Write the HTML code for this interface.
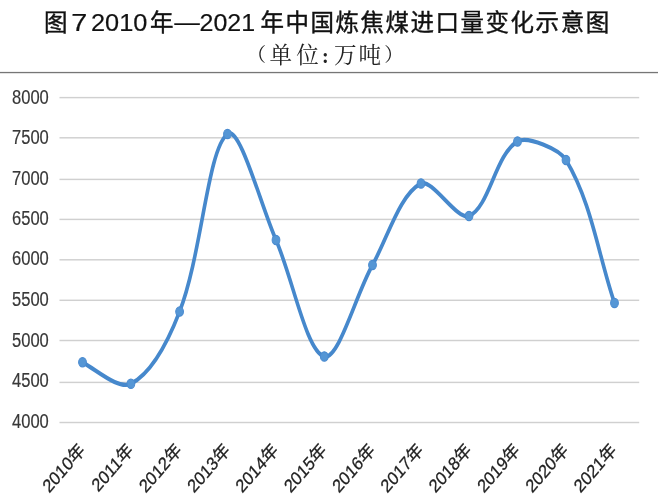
<!DOCTYPE html>
<html lang="zh"><head><meta charset="utf-8"><title>图7</title>
<style>
html,body{margin:0;padding:0;background:#fff;}
body{width:658px;height:501px;overflow:hidden;position:relative;}
svg{position:absolute;left:0;top:0;display:block;}
.t{font-family:"Liberation Sans","Noto Sans CJK SC",sans-serif;fill:#111;}
.k{font-family:"Liberation Serif","Noto Serif CJK SC",serif;fill:#222;font-weight:400;}
.a{font-family:"Liberation Sans","Noto Sans CJK SC",sans-serif;fill:#3c3c3c;}
</style></head><body>
<svg width="658" height="501" viewBox="0 0 658 501">
<rect width="658" height="501" fill="#fff"/>

<g class="t">
<text x="44" y="31" font-size="23.5" stroke="#111" stroke-width="0.4">图</text>
<text transform="translate(71.2,30.6) scale(1.2,1)" font-size="24" stroke="#111" stroke-width="0.2">7</text>
<text transform="translate(91,30.6) scale(1.055,1)" font-size="24" stroke="#111" stroke-width="0.2">2010</text>
<text x="150.1" y="31" font-size="23.5" stroke="#111" stroke-width="0.4">年</text>
<text x="174.3" y="31" font-size="25.6">—</text>
<text transform="translate(199.6,30.6) scale(1.04,1)" font-size="24" stroke="#111" stroke-width="0.2">2021</text>
<text x="260.4" y="31" font-size="23.5" letter-spacing="1.52" stroke="#111" stroke-width="0.4">年中国炼焦煤进口量变化示意图</text>
</g>
<g class="k" font-size="22.6" text-anchor="middle">
<text x="256.5" y="62" font-size="19.3">（</text>
<text x="280.8" y="62.6">单</text>
<text x="307.6" y="62.6">位</text>
<text x="325.3" y="62.6" font-size="20" font-weight="700">:</text>
<text x="345.3" y="62.6">万</text>
<text x="369.7" y="62.6">吨</text>
<text x="394" y="62" font-size="19.3">）</text>
</g>
<rect x="0" y="72" width="658" height="1" fill="#767676"/><rect x="0" y="73" width="658" height="1" fill="#e2e2e2"/><rect x="0" y="71" width="658" height="1" fill="#f0f0f0"/>
<rect x="59.5" y="96.88" width="579.7" height="1.45" fill="#d0d0d0"/>
<rect x="59.5" y="137.08" width="579.7" height="1.45" fill="#d0d0d0"/>
<rect x="59.5" y="178.68" width="579.7" height="1.45" fill="#d0d0d0"/>
<rect x="59.5" y="218.68" width="579.7" height="1.45" fill="#d0d0d0"/>
<rect x="59.5" y="259.08" width="579.7" height="1.45" fill="#d0d0d0"/>
<rect x="59.5" y="299.58" width="579.7" height="1.45" fill="#d0d0d0"/>
<rect x="59.5" y="339.78" width="579.7" height="1.45" fill="#d0d0d0"/>
<rect x="59.5" y="381.68" width="579.7" height="1.45" fill="#d0d0d0"/>
<rect x="59.5" y="421.78" width="579.7" height="1.45" fill="#d0d0d0"/>
<g class="a" font-size="16" stroke="#383838" stroke-width="0.15" style="fill:#383838">
<text transform="translate(12,104.10) scale(1.035,1.265)" x="0" y="0">8000</text>
<text transform="translate(12,144.43) scale(1.035,1.265)" x="0" y="0">7500</text>
<text transform="translate(12,184.76) scale(1.035,1.265)" x="0" y="0">7000</text>
<text transform="translate(12,225.09) scale(1.035,1.265)" x="0" y="0">6500</text>
<text transform="translate(12,265.42) scale(1.035,1.265)" x="0" y="0">6000</text>
<text transform="translate(12,305.98) scale(1.035,1.265)" x="0" y="0">5500</text>
<text transform="translate(12,346.56) scale(1.035,1.265)" x="0" y="0">5000</text>
<text transform="translate(12,387.14) scale(1.035,1.265)" x="0" y="0">4500</text>
<text transform="translate(12,427.72) scale(1.035,1.265)" x="0" y="0">4000</text>
</g>
<g class="a" font-size="16" text-anchor="end" fill="#222" stroke="#222" stroke-width="0.25" style="fill:#222">
<text transform="translate(85.95,451.20) scale(1.01,1.17) rotate(-45)" x="0" y="0">2010年</text>
<text transform="translate(134.26,451.20) scale(1.01,1.17) rotate(-45)" x="0" y="0">2011年</text>
<text transform="translate(182.57,451.20) scale(1.01,1.17) rotate(-45)" x="0" y="0">2012年</text>
<text transform="translate(230.88,451.20) scale(1.01,1.17) rotate(-45)" x="0" y="0">2013年</text>
<text transform="translate(279.19,451.20) scale(1.01,1.17) rotate(-45)" x="0" y="0">2014年</text>
<text transform="translate(327.50,451.20) scale(1.01,1.17) rotate(-45)" x="0" y="0">2015年</text>
<text transform="translate(375.81,451.20) scale(1.01,1.17) rotate(-45)" x="0" y="0">2016年</text>
<text transform="translate(424.12,451.20) scale(1.01,1.17) rotate(-45)" x="0" y="0">2017年</text>
<text transform="translate(472.43,451.20) scale(1.01,1.17) rotate(-45)" x="0" y="0">2018年</text>
<text transform="translate(520.74,451.20) scale(1.01,1.17) rotate(-45)" x="0" y="0">2019年</text>
<text transform="translate(569.05,451.20) scale(1.01,1.17) rotate(-45)" x="0" y="0">2020年</text>
<text transform="translate(617.36,451.20) scale(1.01,1.17) rotate(-45)" x="0" y="0">2021年</text>
</g>
<g transform="scale(1,1.190)">
<path d="M82.50,304.37 C98.50,312.18 119.25,327.62 130.90,322.52 C152.71,312.97 169.80,283.14 179.60,261.85 C202.00,213.16 207.58,125.04 227.50,112.61 C239.72,104.98 260.57,171.87 276.00,201.68 C292.84,234.20 306.45,295.69 324.30,299.58 C338.61,302.70 355.57,248.15 372.50,222.69 C387.80,199.69 399.78,163.26 421.00,154.20 C431.94,149.53 457.49,185.72 469.00,181.51 C489.66,173.96 495.23,129.71 517.50,118.91 C527.56,114.03 559.54,125.42 566.00,134.45 C591.87,170.66 598.33,214.57 614.50,254.62" fill="none" stroke="#4688cc" stroke-width="3.60" stroke-linecap="round" stroke-linejoin="round"/>
<circle cx="82.50" cy="304.37" r="3.9" fill="#5596d5" stroke="#4a8bd0" stroke-width="1"/>
<circle cx="130.90" cy="322.52" r="3.9" fill="#5596d5" stroke="#4a8bd0" stroke-width="1"/>
<circle cx="179.60" cy="261.85" r="3.9" fill="#5596d5" stroke="#4a8bd0" stroke-width="1"/>
<circle cx="227.50" cy="112.61" r="3.9" fill="#5596d5" stroke="#4a8bd0" stroke-width="1"/>
<circle cx="276.00" cy="201.68" r="3.9" fill="#5596d5" stroke="#4a8bd0" stroke-width="1"/>
<circle cx="324.30" cy="299.58" r="3.9" fill="#5596d5" stroke="#4a8bd0" stroke-width="1"/>
<circle cx="372.50" cy="222.69" r="3.9" fill="#5596d5" stroke="#4a8bd0" stroke-width="1"/>
<circle cx="421.00" cy="154.20" r="3.9" fill="#5596d5" stroke="#4a8bd0" stroke-width="1"/>
<circle cx="469.00" cy="181.51" r="3.9" fill="#5596d5" stroke="#4a8bd0" stroke-width="1"/>
<circle cx="517.50" cy="118.91" r="3.9" fill="#5596d5" stroke="#4a8bd0" stroke-width="1"/>
<circle cx="566.00" cy="134.45" r="3.9" fill="#5596d5" stroke="#4a8bd0" stroke-width="1"/>
<circle cx="614.50" cy="254.62" r="3.9" fill="#5596d5" stroke="#4a8bd0" stroke-width="1"/>
</g>
</svg></body></html>
